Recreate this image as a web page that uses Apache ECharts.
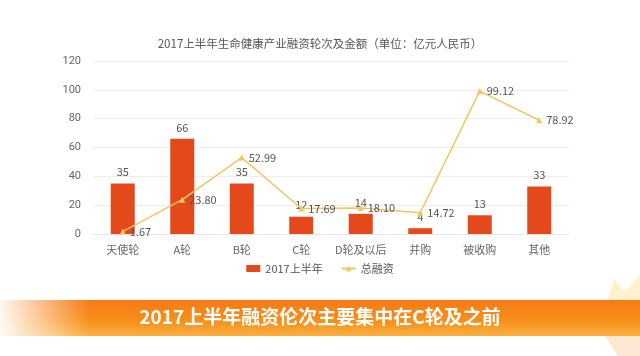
<!DOCTYPE html>
<html><head><meta charset="utf-8">
<script src="https://cdn.jsdelivr.net/npm/echarts@6/dist/echarts.min.js"></script>
<style>html,body{margin:0;padding:0;background:#fff;}#c{width:640px;height:356px;}</style>
</head><body><div id="c"></div>
<script>
const categories = ['天使轮','A轮','B轮','C轮','D轮及以后','并购','被收购','其他'];
const countValues = [35,66,35,12,14,4,13,33];
const totalValues = [1.67,23.80,52.99,17.69,18.10,14.72,99.12,78.92];
const yTicks = [0,20,40,60,80,100,120];
const seriesNames = ['2017上半年','总融资'];
const chartTitle = '2017上半年生命健康产业融资轮次及金额（单位：亿元人民币）';
const bannerText = '2017上半年融资伦次主要集中在C轮及之前';

const font = '"Noto Sans CJK SC","Microsoft YaHei",sans-serif';
const chart = echarts.init(document.getElementById('c'));
chart.setOption({
  backgroundColor:'#fff',
  animation:false,
  textStyle:{fontFamily:font},
  title:{text:chartTitle,left:'center',top:33,textStyle:{fontSize:11.5,fontWeight:'normal',color:'#555',fontFamily:font}},
  legend:{bottom:77,left:'center',itemWidth:14,itemHeight:7,itemGap:18,
    textStyle:{fontSize:11,color:'#555',fontFamily:font},
    data:[{name:seriesNames[0],icon:'rect'},{name:seriesNames[1]}]},
  grid:{left:93,right:71,top:61,bottom:122,containLabel:false},
  xAxis:{type:'category',data:categories,
    axisLine:{lineStyle:{color:'#e6e6e6'}},axisTick:{show:false},
    axisLabel:{color:'#666',fontSize:11,margin:10,interval:0,fontFamily:font}},
  yAxis:{type:'value',min:yTicks[0],max:yTicks[yTicks.length-1],interval:20,
    axisLine:{show:false},axisTick:{show:false},
    axisLabel:{color:'#666',fontSize:11,margin:12,fontFamily:'Roboto,sans-serif'},
    splitLine:{lineStyle:{color:'#eeeeee'}}},
  series:[
    {name:seriesNames[0],type:'bar',data:countValues,barWidth:24,
      itemStyle:{color:'#E4491C'},
      label:{show:true,position:'top',color:'#555',fontSize:11,distance:6}},
    {name:seriesNames[1],type:'line',data:totalValues,
      symbol:'triangle',symbolSize:6,
      lineStyle:{color:'#F3C55B',width:1.5},itemStyle:{color:'#F3C55B'},
      label:{show:true,position:'right',color:'#555',fontSize:11,distance:4,
        formatter:p=>p.value.toFixed(2)}}
  ],
  graphic:[
    {type:'polygon',silent:true,z:-1,shape:{points:[[608,300],[614,278],[625,292],[640,274],[640,300]]},
      style:{fill:'rgba(250,215,120,0.35)'}},
    {type:'polygon',silent:true,z:-1,shape:{points:[[605,336],[640,336],[640,356],[618,356]]},
      style:{fill:'rgba(248,190,130,0.35)'}},
    {type:'rect',silent:true,shape:{x:0,y:300,width:640,height:36},
      style:{fill:new echarts.graphic.LinearGradient(0,0,0,1,[
        {offset:0,color:'#F57A14'},{offset:0.6,color:'#F7901C'},{offset:1,color:'#F9B040'}])}},
    {type:'rect',silent:true,shape:{x:0,y:300,width:90,height:36},
      style:{fill:new echarts.graphic.LinearGradient(0,0,1,0,[
        {offset:0,color:'rgba(255,255,255,0.95)'},{offset:1,color:'rgba(255,255,255,0)'}])}},
    {type:'text',silent:true,left:'center',top:307,
      style:{text:bannerText,fill:'#fff',font:'bold 19px '+font}}
  ]
});
</script></body></html>
